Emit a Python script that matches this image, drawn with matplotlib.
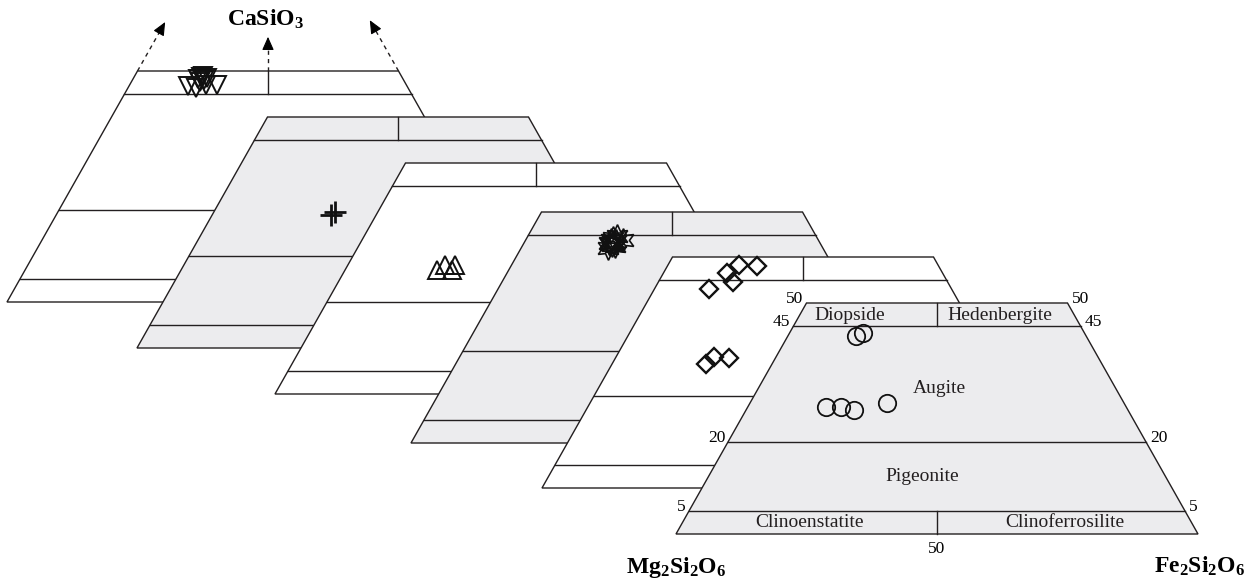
import numpy as np
import matplotlib
matplotlib.use("Agg")
import matplotlib.pyplot as plt
from matplotlib.patches import Polygon

plt.rcParams['font.family'] = ['Liberation Serif', 'DejaVu Serif']
plt.rcParams['mathtext.fontset'] = 'custom'
plt.rcParams['mathtext.rm'] = 'Liberation Serif'
plt.rcParams['mathtext.bf'] = 'Liberation Serif:bold'

# compositions in mol% (Wo, Fs); En = 100 - Wo - Fs
p1_wo = [46.75, 46.3, 46.97, 46.97, 48.27, 48.7, 48.05, 48.5, 47.6, 48.9]
p1_fs = [11.3, 13.05, 14.6, 16.75, 12.45, 12.8, 13.7, 14.05, 13.2, 13.1]
p2_wo = [29.5, 28.8]
p2_fs = [23.25, 22.8]
p3_wo = [26.8, 27.9, 27.9, 26.8]
p3_fs = [17.6, 18.6, 20.6, 20.5]
p4_wo = [43.9, 43.3, 42.9, 43.7, 43.3, 44.4, 42.6, 43.9, 43.6, 43.0, 42.3, 44.8]
p4_fs = [16.35, 17.25, 17.05, 17.4, 16.3, 16.5, 17.8, 18.65, 16.9, 16.7, 16.6, 17.0]
p5_wo = [43.1, 46.5, 48.3, 48.1, 44.6, 26.8, 28.4, 28.1]
p5_fs = [10.4, 12.2, 13.6, 17.1, 14.3, 18.0, 18.75, 21.8]
p6_wo = [42.9, 43.5, 27.5, 27.5, 26.8, 28.4]
p6_fs = [13.0, 14.1, 15.0, 17.9, 20.7, 26.2]

field_names = ['Diopside', 'Hedenbergite', 'Augite', 'Pigeonite', 'Clinoenstatite', 'Clinoferrosilite']
field_wo = [47.4, 47.4, 31.6, 12.55, 2.4, 2.4]
field_fs = [9.65, 38.35, 34.6, 40.9, 24.3, 73.3]
wo_ticks = [50, 45, 20, 5]

# layout of the stacked quadrilaterals (pixels)
L, H = 522.0, 231.0
panel_cx = [268, 398, 536, 672, 803, 937]
panel_yb = [302, 348, 394, 443, 488, 534]
gray = '#ececee'
panel_fill = ['white', gray, 'white', gray, 'white', gray]
lc = '#231f20'


def to_xy(wo, fs, k):
    wo = np.asarray(wo, float)
    fs = np.asarray(fs, float)
    en = 100 - wo - fs
    x = panel_cx[k] + L * (fs - en) / 200.0
    y = panel_yb[k] - H * wo / 50.0
    return x, y


fig = plt.figure(figsize=(12.5, 5.83), dpi=100)
ax = fig.add_axes([0, 0, 1, 1])
ax.set_xlim(0, 1250)
ax.set_ylim(583, 0)
ax.axis('off')

markers = [
    dict(wo=p1_wo, fs=p1_fs, marker='v', ms=12.5, mew=1.4),
    dict(wo=p2_wo, fs=p2_fs, marker='+', ms=16, mew=2.0),
    dict(wo=p3_wo, fs=p3_fs, marker='^', ms=12.5, mew=1.4),
    dict(wo=p4_wo, fs=p4_fs, marker=(6, 1, 0), ms=17, mew=1.2),
    dict(wo=p5_wo, fs=p5_fs, marker='D', ms=9, mew=1.7),
    dict(wo=p6_wo, fs=p6_fs, marker='o', ms=12.5, mew=1.3),
]

for k in range(6):
    z = 10 * (k + 1)
    cx, cy = to_xy([0, 0, 50, 50], [0, 100, 50, 0], k)
    ax.add_patch(Polygon(np.c_[cx, cy], closed=True, facecolor=panel_fill[k],
                         edgecolor=lc, lw=1.0, zorder=z))
    for w in [45, 20, 5]:
        lx, ly = to_xy([w, w], [0, 100 - w], k)
        ax.plot(lx, ly, color=lc, lw=1.0, zorder=z + 1)
    for w0, w1 in [(45, 50), (0, 5)]:
        lx, ly = to_xy([w0, w1], [(100 - w0) / 2, (100 - w1) / 2], k)
        ax.plot(lx, ly, color=lc, lw=1.0, zorder=z + 1)
    m = markers[k]
    mx, my = to_xy(m['wo'], m['fs'], k)
    ax.plot(mx, my, ls='none', marker=m['marker'], ms=m['ms'], mew=m['mew'],
            mfc='none', mec='#111111', zorder=z + 2)

# dashed arrows towards CaSiO3 on the back panel
for (w0, f0), (w1, f1) in [((50, 0), (60.6, 0)), ((50, 25), (57.4, 21.3)), ((50, 50), (61.0, 39.0))]:
    x, y = to_xy([w0, w1], [f0, f1], 0)
    ax.plot([x[0], x[0] + 0.88 * (x[1] - x[0])], [y[0], y[0] + 0.88 * (y[1] - y[0])],
            color=lc, lw=1.0, ls=(0, (3, 3)), zorder=5)
    ax.annotate('', xy=(x[1], y[1]), xytext=(x[1] - 0.2 * (x[1] - x[0]), y[1] - 0.2 * (y[1] - y[0])),
                arrowprops=dict(arrowstyle='-|>,head_length=0.9,head_width=0.4', color='k',
                                lw=0.8, shrinkA=0, shrinkB=0, mutation_scale=9), zorder=6)

ax.text(265, 26, r'$\mathbf{CaSiO_3}$', fontsize=17, ha='center', va='baseline', zorder=80)

# front panel annotations
k = 5
for name, w, f in zip(field_names, field_wo, field_fs):
    tx, ty = to_xy(w, f, k)
    ax.text(tx, ty, name, fontsize=14, ha='center', va='center', color='#231f20', zorder=80)
for w in wo_ticks:
    lx, ly = to_xy(w, 0, k)
    rx, ry = to_xy(w, 100 - w, k)
    ax.text(lx - 3, ly - 4, str(w), fontsize=12.5, ha='right', va='center', zorder=80)
    ax.text(rx + 4, ry - 4, str(w), fontsize=12.5, ha='left', va='center', zorder=80)
bx, by = to_xy(0, 50, k)
ax.text(bx, by + 15, '50', fontsize=12.5, ha='center', va='center', zorder=80)

x0, y0 = to_xy(0, 0, k)
x1, y1 = to_xy(0, 100, k)
ax.text(x0, 573, r'$\mathbf{Mg_2Si_2O_6}$', fontsize=17, ha='center', va='baseline', zorder=80)
ax.text(x1 + 2, 573, r'$\mathbf{Fe_2Si_2O_6}$', fontsize=17, ha='center', va='baseline', zorder=80)

fig.savefig('out.png', dpi=100)
